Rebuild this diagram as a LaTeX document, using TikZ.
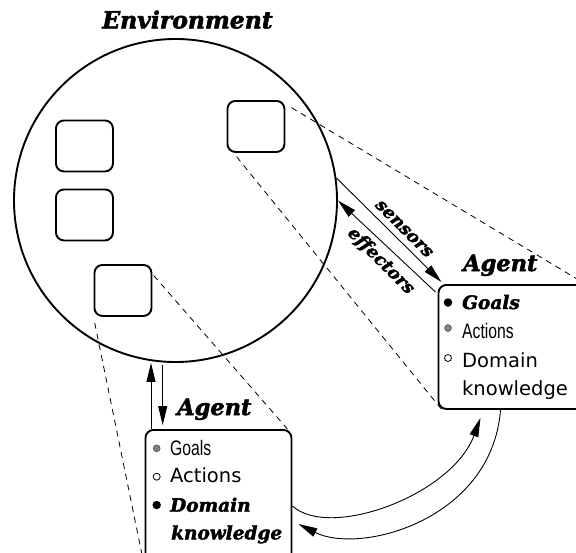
\documentclass[tikz,border=0pt]{standalone}
\usepackage{fontspec}
\usetikzlibrary{arrows.meta,calc}
\newfontfamily\serifbi{DejaVu Serif}[UprightFont={* Bold Italic}, UprightFeatures={FakeBold=2.2}]
\newfontfamily\sansreg{DejaVu Sans}
\newfontfamily\sansnarrow[FakeStretch=0.75]{Liberation Sans}
\newcommand{\bistyle}{\serifbi}
\tikzset{
  envcircle/.style={circle, draw, line width=1.9pt, minimum size=323pt, inner sep=0pt},
  smallbox/.style={rectangle, draw, line width=1.9pt, rounded corners=8pt, minimum width=57pt, minimum height=51pt, inner sep=0pt, anchor=north west},
  agentbox/.style={rectangle, draw, line width=1.9pt, rounded corners=8pt, inner sep=0pt, anchor=north west},
  biglabel/.style={font=\bistyle\fontsize{22.5}{22.5}\selectfont, inner sep=0pt, anchor=base west},
  arrlabel/.style={font=\bistyle\fontsize{17.5}{17.5}\selectfont, inner sep=0pt, rotate=-45},
  itemtxt/.style={inner sep=0pt, anchor=base west},
  bitem/.style={itemtxt, font=\bistyle\fontsize{18.5}{18.5}\selectfont},
  sitem/.style={itemtxt, font=\sansreg\fontsize{19.5}{19.5}\selectfont},
  nitem/.style={itemtxt, font=\sansnarrow\fontsize{21}{21}\selectfont},
  blackdot/.style={circle, fill=black, inner sep=0pt, minimum size=8.5pt},
  graydot/.style={circle, fill=gray, draw=black!70, line width=0.5pt, inner sep=0pt, minimum size=7pt},
  whitedot/.style={circle, fill=white, draw=black, line width=0.8pt, inner sep=0pt, minimum size=7pt},
  proj/.style={dashed, dash pattern=on 6pt off 5pt, line width=0.8pt},
  conn/.style={line width=0.9pt, -{Triangle[length=19pt,width=9pt]}},
}
\begin{document}
\begin{tikzpicture}[x=1pt,y=-1pt]
\useasboundingbox (0,0) rectangle (576,552);
\fill[white] (0,0) rectangle (576,552);

% environment
\node[envcircle] (env) at (175.5,200.5) {};
\node[font=\bistyle\fontsize{23.5}{23.5}\selectfont, inner sep=0pt, anchor=base] (envlab) at (187.5,28.3) {Environment};

% small boxes
\node[smallbox] (b1) at (226.5,100) {};
\node[smallbox] (b2) at (55,119.5) {};
\node[smallbox] (b3) at (55,188.5) {};
\node[smallbox] (b4) at (93.5,264) {};

% right agent box
\node[agentbox, minimum width=146pt, minimum height=124pt] (rbox) at (437.5,284) {};
\node[biglabel] (ragent) at (463,271) {Agent};
\node[blackdot] (rd1) at (448,302.5) {};
\node[bitem] (rt1) at (462,309) {Goals};
\node[graydot] (rd2) at (448,328) {};
\node[nitem] (rt2) at (462,338) {Actions};
\node[whitedot] (rd3) at (448,358) {};
\node[sitem] (rt3) at (462,367) {Domain};
\node[sitem] (rt4) at (462,395.5) {knowledge};

% bottom agent box
\node[agentbox, minimum width=146pt, minimum height=136pt] (bbox) at (144.5,429) {};
\node[biglabel] (bagent) at (177,415) {Agent};
\node[graydot] (bd1) at (156.7,448.3) {};
\node[nitem] (bt1) at (170,455) {Goals};
\node[whitedot] (bd2) at (156.7,476.7) {};
\node[sitem] (bt2) at (170,482.7) {Actions};
\node[blackdot] (bd3) at (156.7,505) {};
\node[bitem] (bt3) at (170,511.7) {Domain};
\node[bitem] (bt4) at (171,539.3) {knowledge};

% projection lines
\draw[proj, shorten <=7pt] ($(b1.north east)+(0,4)$) -- (rbox.north east);
\draw[proj, shorten <=5pt] ($(b1.south west)+(7,0)$) -- ($(rbox.south west)+(4.5,0)$);
\draw[proj, shorten <=2pt] ($(b4.north east)+(0,10)$) -- ($(bbox.north east)+(-5,0)$);
\draw[proj, shorten <=6pt] (b4.south west) -- (bbox.south west);

% sensors / effectors
\draw[conn] (env.8) -- ($(rbox.north west)+(4,-2)$);
\draw[conn] ($(rbox.north west)+(-2,8)$) -- (env.0);
\node[arrlabel] (sens) at (404,229) {sensors};
\node[arrlabel] (effe) at (381,261) {effectors};

% vertical arrows
\draw[conn] ([xshift=6.5pt]bbox.north west) -- ([xshift=6.5pt]bbox.north west |- env.south);
\draw[conn, shorten <=2pt, shorten >=4pt] ([xshift=18.2pt]bbox.north west |- env.south) -- ([xshift=18.2pt]bbox.north west);

% curved arrows
\coordinate (c1s) at ($(bbox.north east)+(0,77)$);
\coordinate (c1e) at ($(rbox.south west)+(43,8)$);
\coordinate (c2s) at ($(rbox.south west)+(63,0)$);
\coordinate (c2e) at ($(bbox.north east)+(6,95)$);
\draw[conn] (c1s) .. controls (330,540) and (452,495) .. (c1e);
\draw[conn] (c2s) .. controls (492,520) and (360,555) .. (c2e);
\end{tikzpicture}
\end{document}
